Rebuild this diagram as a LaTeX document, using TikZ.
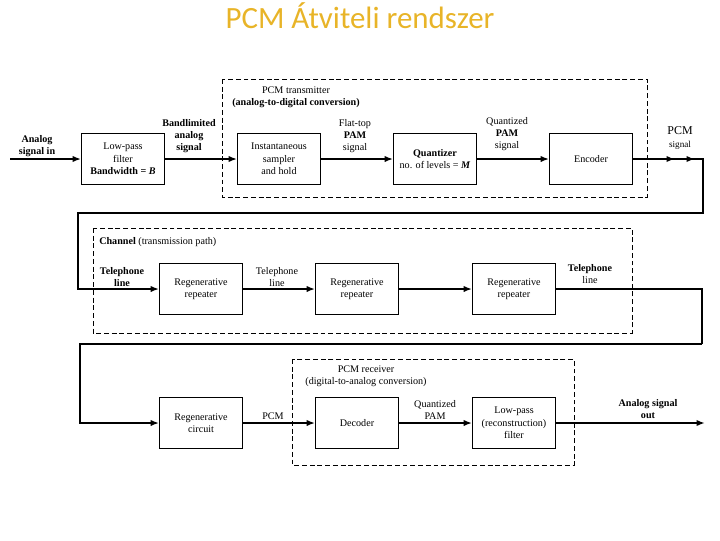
\documentclass[tikz,border=0pt]{standalone}
\usepackage{fontspec}
\setmainfont{Liberation Serif}
\newfontfamily\titlefont{Carlito}
\usetikzlibrary{arrows.meta}
\definecolor{titlegold}{RGB}{232,180,40}

\begin{document}
\begin{tikzpicture}[
    x=0.025cm, y=-0.025cm,
    blk/.style={draw, line width=0.7pt, minimum width=2.07cm, minimum height=1.27cm,
                inner sep=1pt, align=center, font=\fontsize{7.2}{8.8}\selectfont},
    lab/.style={inner sep=0pt, align=center, font=\fontsize{7.2}{8.8}\selectfont},
    sig/.style={line width=1.3pt, -{Latex[length=6pt,width=4.5pt]}},
    thin/.style={line width=0.9pt},
    grp/.style={line width=0.7pt, dash pattern=on 3.5pt off 2pt}
]
\useasboundingbox (0,0) rectangle (720,540);

\node[font=\titlefont\fontsize{22}{25}\selectfont, text=titlegold] (title) at (360,16) {PCM Átviteli rendszer};

\draw[grp] (222,79) rectangle (647,197);
\draw[grp] (93,228) rectangle (632,333);
\draw[grp] (292,359) rectangle (574,465);

\node[blk] (lpf)   at (123,159) {Low-pass\\filter\\\textbf{Bandwidth = \textit{B}}};
\node[blk] (samp)  at (279,159) {Instantaneous\\sampler\\and hold};
\node[blk] (quant) at (435,159) {\textbf{Quantizer}\\no. of levels = \textbf{\textit{M}}};
\node[blk] (enc)   at (591,159) {Encoder};

\node[blk] (rep1) at (201,289) {Regenerative\\repeater};
\node[blk] (rep2) at (357,289) {Regenerative\\repeater};
\node[blk] (rep3) at (514,289) {Regenerative\\repeater};

\node[blk] (regc) at (201,423) {Regenerative\\circuit};
\node[blk] (dec)  at (357,423) {Decoder};
\node[blk] (rlpf) at (514,423) {Low-pass\\(reconstruction)\\filter};

\coordinate (in)  at (10,159);
\coordinate (out) at (705,423);
\coordinate (t1)  at (675,159);
\coordinate (t2)  at (695,159);
\coordinate (r1)  at (703,159);
\coordinate (r2)  at (78,213);
\coordinate (m1)  at (702,289);
\coordinate (m3)  at (702,344);
\coordinate (m2)  at (80,344);

\draw[sig] (in) -- (lpf);
\draw[sig] (lpf) -- (samp);
\draw[sig] (samp) -- (quant);
\draw[sig] (quant) -- (enc);
\draw[sig] (enc) -- (r1) |- (r2) |- (rep1);
\draw[sig] (enc) -- (t1);
\draw[sig] (enc) -- (t2);

\draw[sig] (rep1) -- (rep2);
\draw[sig] (rep2) -- (rep3);
\draw[thin] (rep3) -- (m1) -- (m3);
\draw[sig] (m3) -- (m2) |- (regc);

\draw[sig] (regc) -- (dec);
\draw[sig] (dec) -- (rlpf);
\draw[sig] (rlpf) -- (out);

\node[lab] (ain)   at (37,146)  {\textbf{Analog}\\\textbf{signal in}};
\node[lab] (band)  at (189,136) {\textbf{Bandlimited}\\\textbf{analog}\\\textbf{signal}};
\node[lab] (flat)  at (355,136) {Flat-top\\\textbf{PAM}\\signal};
\node[lab] (qpam)  at (507,134) {Quantized\\\textbf{PAM}\\signal};
\node[lab] (pcms)  at (680,138) {{\fontsize{8.5}{9}\selectfont PCM}\\{\fontsize{6.5}{7}\selectfont signal}};
\node[lab] (txlab) at (296,97)  {PCM transmitter\\\textbf{(analog-to-digital conversion)}};

\node[lab, anchor=west] (chlab) at (99,242) {\textbf{Channel} (transmission path)};
\node[lab] (tel1) at (122,277) {\textbf{Telephone}\\\textbf{line}};
\node[lab] (tel2) at (277,277) {Telephone\\line};
\node[lab] (tel3) at (590,274) {\textbf{Telephone}\\line};

\node[lab] (pcm)   at (273,416) {PCM};
\node[lab] (rxlab) at (366,376) {PCM receiver\\(digital-to-analog conversion)};
\node[lab] (qpam2) at (435,410) {Quantized\\PAM};
\node[lab] (aout)  at (648,409) {\textbf{Analog signal}\\\textbf{out}};

\end{tikzpicture}
\end{document}
